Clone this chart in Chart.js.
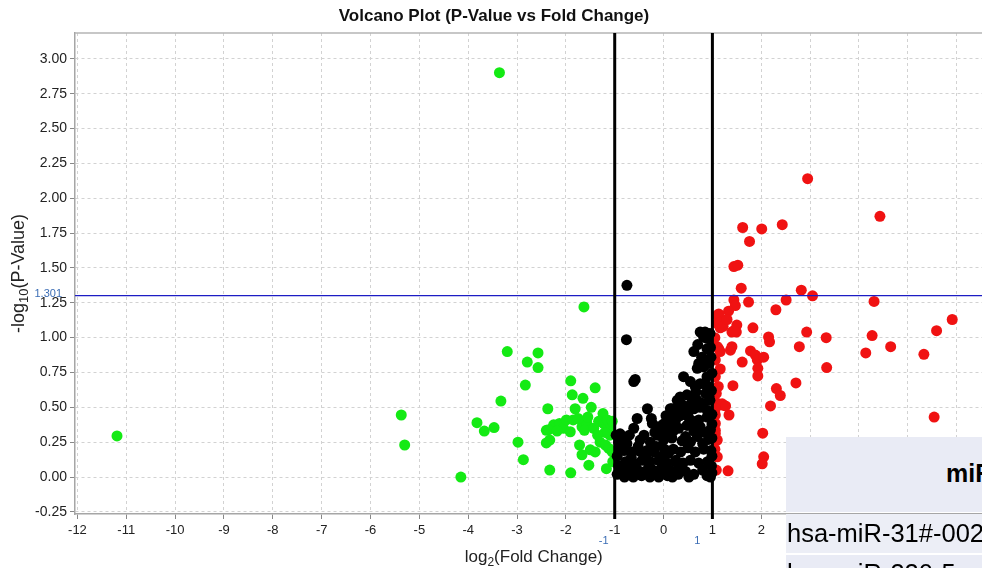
<!DOCTYPE html>
<html>
<head>
<meta charset="utf-8">
<script src="https://cdn.jsdelivr.net/npm/chart.js@4.4.0/dist/chart.umd.min.js"></script>
<style>
html, body { margin: 0; padding: 0; background: #fff; overflow: hidden; }
#wrap { position: relative; width: 982px; height: 568px; overflow: hidden; }
canvas { display: block; }
.cell { position: absolute; overflow: hidden; white-space: nowrap; font-family: "Liberation Sans", Arial, sans-serif; color: #000; }
</style>
</head>
<body>
<div id="wrap">
  <canvas id="volcano" width="988" height="568"></canvas>
  <div class="cell" style="left:786px;top:437px;width:196px;height:75px;background:#e9ebf5;">
    <span style="position:absolute;left:160px;top:22px;font-size:25px;font-weight:bold;">miRNA</span>
  </div>
  <div class="cell" style="left:786px;top:514px;width:196px;height:39px;background:#eceef6;">
    <span style="position:absolute;left:1px;top:5px;font-size:25.5px;">hsa-miR-31#-002</span>
  </div>
  <div class="cell" style="left:786px;top:555px;width:196px;height:13px;background:#e9ebf5;">
    <span style="position:absolute;left:1px;top:4px;font-size:25.5px;">hsa-miR-320-5</span>
  </div>
</div>
<script>
// seuils
const foldThresholds = [-1, 1];
const pThreshold = 1.301;

// log2(fold change), -log10(p)
const downRegulated = [
  [-11.19, 0.295], [-3.36, 2.90], [-1.63, 1.22], [-5.37, 0.445], [-5.30, 0.23], [-4.15, 0.00],
  [-3.82, 0.39], [-3.67, 0.33], [-3.47, 0.355], [-3.33, 0.545], [-3.20, 0.90], [-2.79, 0.825],
  [-2.57, 0.89], [-2.57, 0.785], [-2.83, 0.66], [-2.98, 0.25], [-2.87, 0.125], [-2.33, 0.05],
  [-2.37, 0.49], [-1.90, 0.69], [-1.87, 0.59], [-1.65, 0.565], [-1.40, 0.64], [-1.81, 0.49],
  [-1.48, 0.50], [-1.90, 0.03], [-2.40, 0.335], [-2.25, 0.375], [-2.13, 0.385], [-2.35, 0.34],
  [-2.05, 0.35], [-1.91, 0.325], [-1.99, 0.41], [-1.85, 0.41], [-1.24, 0.455], [-1.67, 0.36],
  [-1.57, 0.385], [-1.62, 0.335], [-1.43, 0.35], [-1.33, 0.40], [-1.23, 0.385], [-1.15, 0.41],
  [-1.09, 0.35], [-2.33, 0.265], [-2.40, 0.245], [-1.72, 0.23], [-1.30, 0.25], [-1.19, 0.23],
  [-1.12, 0.205], [-1.67, 0.16], [-1.50, 0.195], [-1.40, 0.18], [-1.53, 0.085], [-1.17, 0.06],
  [-1.04, 0.11], [-1.10, 0.30], [-1.05, 0.40], [-1.20, 0.32], [-1.75, 0.42], [-2.18, 0.33],
  [-1.55, 0.43], [-1.35, 0.30], [-1.05, 0.18]
];

const notSignificant = [
  [-0.75, 1.375], [-0.76, 0.985], [-0.61, 0.685], [-0.58, 0.70], [-0.33, 0.49], [-0.54, 0.42],
  [-0.23, 0.385], [-0.25, 0.42], [-0.61, 0.35], [-0.89, 0.31], [-0.92, 0.25], [-0.75, 0.24],
  [-0.48, 0.265], [-0.27, 0.25], [-0.13, 0.30], [0.00, 0.265], [-0.81, 0.19], [-0.65, 0.18],
  [-0.48, 0.185], [-0.34, 0.19], [-0.20, 0.18], [-0.78, 0.11], [-0.61, 0.10], [-0.44, 0.12],
  [-0.27, 0.11], [-0.10, 0.12], [0.07, 0.10], [0.24, 0.11], [-0.86, 0.06], [-0.72, 0.05],
  [-0.55, 0.06], [-0.38, 0.04], [-0.22, 0.05], [-0.05, 0.06], [0.12, 0.05], [-0.80, 0.00],
  [-0.62, 0.00], [-0.45, 0.01], [-0.28, 0.00], [-0.10, 0.00], [0.08, 0.01], [-0.95, 0.15],
  [-0.90, 0.20], [-0.85, 0.27], [-0.70, 0.30], [-0.66, 0.14], [-0.52, 0.22], [-0.40, 0.30],
  [-0.36, 0.14], [-0.15, 0.22], [-0.05, 0.15], [0.02, 0.20], [0.05, 0.32], [-0.05, 0.36],
  [-0.95, 0.02], [-0.70, 0.09], [-0.30, 0.08], [-0.12, 0.02], [0.18, 0.00], [0.30, 0.02],
  [-0.92, 0.08], [-0.97, 0.30], [-0.18, 0.32],
  [0.75, 1.04], [0.82, 1.005], [0.89, 0.995], [0.96, 0.93], [0.62, 0.90], [0.89, 0.92],
  [0.72, 0.815], [0.69, 0.78], [0.82, 0.79], [0.93, 0.815], [0.99, 0.745], [0.41, 0.72],
  [0.55, 0.685], [0.65, 0.65], [0.75, 0.67], [0.89, 0.72], [0.92, 0.65], [0.86, 0.60],
  [0.34, 0.575], [0.28, 0.55], [0.48, 0.59], [0.58, 0.565], [0.69, 0.55], [0.79, 0.53],
  [0.95, 0.55], [0.17, 0.49], [0.28, 0.48], [0.45, 0.50], [0.62, 0.49], [0.75, 0.50],
  [0.89, 0.48], [0.14, 0.49], [0.14, 0.42], [0.34, 0.44], [0.51, 0.43], [0.72, 0.41],
  [0.89, 0.43], [0.99, 0.45], [0.24, 0.40], [0.60, 0.40], [0.10, 0.36], [0.31, 0.35],
  [0.48, 0.37], [0.75, 0.36], [0.96, 0.34], [-0.10, 0.36], [0.20, 0.33], [0.62, 0.33],
  [0.85, 0.32], [0.17, 0.28], [0.38, 0.26], [0.55, 0.25], [0.69, 0.29], [0.92, 0.27],
  [0.45, 0.29], [0.80, 0.24], [0.20, 0.20], [0.35, 0.18], [0.50, 0.21], [0.65, 0.18],
  [0.82, 0.20], [0.97, 0.19], [0.10, 0.17], [0.25, 0.12], [0.40, 0.10], [0.55, 0.12],
  [0.72, 0.10], [0.90, 0.11], [0.98, 0.08], [0.28, 0.05], [0.45, 0.04], [0.62, 0.02],
  [0.80, 0.05], [0.89, 0.01], [0.96, 0.00], [0.52, 0.00], [0.98, 0.62], [0.97, 0.86],
  [0.95, 1.03], [0.85, 1.04], [0.99, 0.38], [0.99, 0.28], [0.99, 0.15], [0.99, 0.03],
  [0.93, 0.58], [0.87, 0.66], [0.78, 0.86], [0.70, 0.95], [0.66, 0.61], [0.55, 0.52],
  [0.38, 0.52], [0.45, 0.45], [0.20, 0.45], [0.05, 0.44], [0.00, 0.38]
];

const upRegulated = [
  [2.95, 2.14], [4.43, 1.87], [1.62, 1.79], [2.01, 1.78], [2.43, 1.81], [1.76, 1.69],
  [1.44, 1.51], [1.52, 1.52], [1.59, 1.355], [2.82, 1.34], [3.05, 1.30], [4.31, 1.26],
  [1.44, 1.27], [1.47, 1.23], [1.74, 1.255], [2.51, 1.27], [1.33, 1.19], [2.30, 1.20],
  [5.91, 1.13], [1.10, 1.16], [1.10, 1.10], [1.16, 1.07], [5.59, 1.05], [1.50, 1.09],
  [1.49, 1.04], [1.40, 1.04], [1.83, 1.07], [2.93, 1.04], [3.33, 1.00], [4.27, 1.015],
  [2.15, 1.005], [2.17, 0.97], [2.78, 0.935], [4.65, 0.935], [4.14, 0.89], [5.33, 0.88],
  [1.13, 0.92], [1.37, 0.91], [1.40, 0.935], [1.78, 0.905], [1.88, 0.875], [1.92, 0.84],
  [2.05, 0.86], [1.61, 0.825], [1.93, 0.78], [1.93, 0.725], [3.34, 0.785], [1.06, 0.84],
  [1.16, 0.775], [1.06, 0.72], [2.71, 0.675], [1.42, 0.655], [2.31, 0.635], [2.39, 0.585],
  [2.19, 0.51], [1.10, 0.53], [1.23, 0.515], [1.34, 0.445], [1.06, 0.445], [1.06, 0.385],
  [1.06, 0.335], [5.54, 0.43], [2.03, 0.315], [2.05, 0.145], [2.02, 0.095], [1.10, 0.145],
  [1.32, 0.045], [1.10, 0.265], [1.13, 1.17], [1.16, 1.11], [1.44, 1.05], [1.10, 0.935],
  [1.16, 0.90], [1.20, 0.525], [1.27, 0.51], [1.06, 0.49], [1.06, 0.31], [1.08, 0.60],
  [1.12, 0.65], [1.05, 0.20], [1.08, 0.05], [1.05, 1.00], [1.22, 1.08], [1.30, 1.13]
];

const FONT = '"Liberation Sans", Arial, sans-serif';

function toPoints(list) {
  return list.map(p => ({ x: p[0], y: p[1] }));
}

// écrit un texte avec un indice (ex. log10) et renvoie sa largeur
function morceaux(ctx, parts, x, y, draw) {
  let w = 0;
  parts.forEach(p => {
    ctx.font = p[1] + 'px ' + FONT;
    if (draw) ctx.fillText(p[0], x + w, y + p[2]);
    w += ctx.measureText(p[0]).width;
  });
  return w;
}

// traits de seuil, titres d'axes et libellés bleus
const seuils = {
  id: 'seuils',
  afterDatasetsDraw(chart) {
    const { ctx, chartArea: a, scales: { x, y } } = chart;
    ctx.save();
    ctx.strokeStyle = '#b4b4b4';
    ctx.lineWidth = 1.5;
    ctx.beginPath();
    ctx.moveTo(a.left, a.top);
    ctx.lineTo(a.right, a.top);
    ctx.stroke();

    const py = y.getPixelForValue(pThreshold);
    ctx.strokeStyle = '#1c1cc4';
    ctx.lineWidth = 1.3;
    ctx.beginPath();
    ctx.moveTo(a.left, py);
    ctx.lineTo(a.right, py);
    ctx.stroke();

    ctx.strokeStyle = '#000';
    ctx.lineWidth = 3;
    foldThresholds.forEach(v => {
      const px = x.getPixelForValue(v);
      ctx.beginPath();
      ctx.moveTo(px, a.top);
      ctx.lineTo(px, a.bottom + 5);
      ctx.stroke();
    });

    ctx.fillStyle = '#3b6db5';
    ctx.font = '11px ' + FONT;
    ctx.textBaseline = 'middle';
    ctx.textAlign = 'right';
    ctx.fillText(pThreshold.toFixed(3), a.left - 13, py - 2);
    ctx.textAlign = 'center';
    ctx.fillText(String(foldThresholds[0]), x.getPixelForValue(foldThresholds[0]) - 11, a.bottom + 27);
    ctx.fillText(String(foldThresholds[1]), x.getPixelForValue(foldThresholds[1]) - 15, a.bottom + 27);

    // titres des axes
    ctx.fillStyle = '#222';
    ctx.textAlign = 'left';
    ctx.textBaseline = 'alphabetic';
    const xt = [['log', 17, 0], ['2', 12, 4], ['(Fold Change)', 17, 0]];
    const wx = morceaux(ctx, xt, 0, 0, false);
    morceaux(ctx, xt, (a.left + a.right) / 2 + 5 - wx / 2, 562, true);

    const yt = [['-log', 18, 0], ['10', 13, 4], ['(P-Value)', 18, 0]];
    const wy = morceaux(ctx, yt, 0, 0, false);
    ctx.translate(24, (a.top + a.bottom) / 2 + wy / 2);
    ctx.rotate(-Math.PI / 2);
    morceaux(ctx, yt, 0, 0, true);
    ctx.restore();
  }
};

new Chart(document.getElementById('volcano'), {
  type: 'scatter',
  data: {
    datasets: [
      { label: 'ns', data: toPoints(notSignificant), backgroundColor: '#000', order: 0 },
      { label: 'up', data: toPoints(upRegulated), backgroundColor: '#f01212', order: 1 },
      { label: 'down', data: toPoints(downRegulated), backgroundColor: '#14ea14', order: 2 }
    ]
  },
  options: {
    responsive: false,
    animation: false,
    layout: { padding: 0 },
    elements: { point: { radius: 5.5, borderWidth: 0, hoverRadius: 5.5 } },
    plugins: {
      legend: { display: false },
      tooltip: { enabled: false },
      title: {
        display: true,
        text: 'Volcano Plot (P-Value vs Fold Change)',
        color: '#111',
        font: { family: FONT, size: 17, weight: 'bold' },
        padding: { top: 6, bottom: 6.6 }
      }
    },
    scales: {
      x: {
        type: 'linear',
        min: -12.05,
        max: 6.53,
        afterFit(s) { s.height = 54; },
        ticks: {
          stepSize: 1, includeBounds: false, autoSkip: false, maxRotation: 0,
          color: '#222', padding: 4, font: { family: FONT, size: 13 }
        },
        grid: { color: '#d2d2d2', tickColor: '#888', tickLength: 5 },
        border: { color: '#a6a6a6', width: 1.5, dash: [3, 3] }
      },
      y: {
        type: 'linear',
        min: -0.265,
        max: 3.185,
        afterFit(s) { s.width = 75; },
        ticks: {
          stepSize: 0.25, includeBounds: false, autoSkip: false,
          color: '#222', padding: 3, font: { family: FONT, size: 14 },
          callback: v => Number(v).toFixed(2)
        },
        grid: { color: '#d2d2d2', tickColor: '#888', tickLength: 5 },
        border: { color: '#a6a6a6', width: 1.5, dash: [3, 3] }
      }
    }
  },
  plugins: [seuils]
});
</script>
</body>
</html>
